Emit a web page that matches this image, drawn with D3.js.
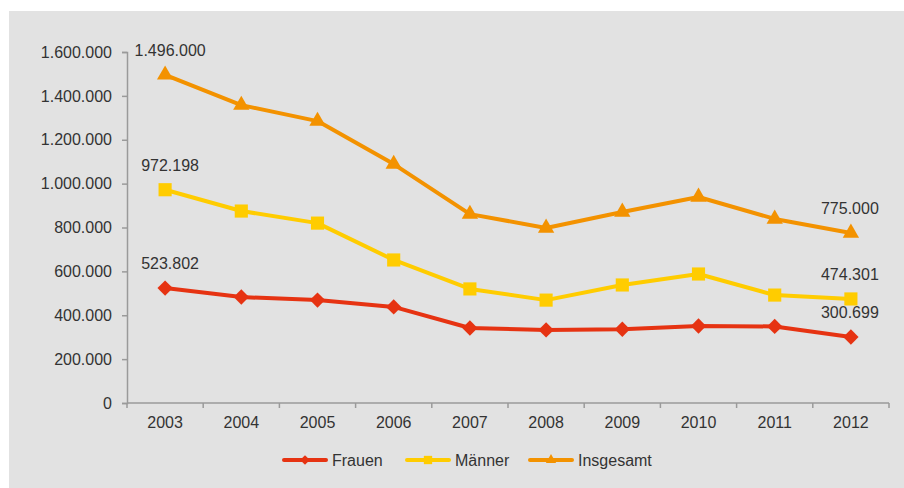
<!DOCTYPE html>
<html>
<head>
<meta charset="utf-8">
<script src="https://cdn.jsdelivr.net/npm/d3@7"></script>
<style>
  html, body { margin: 0; padding: 0; background: #ffffff; }
  svg { display: block; }
  text { font-family: "Liberation Sans", Arial, sans-serif; fill: #333333; }
</style>
</head>
<body>
<svg id="chart" width="904" height="488"></svg>
<script>
// Arbeitslose nach Geschlecht, 2003–2012
const years = ["2003", "2004", "2005", "2006", "2007", "2008", "2009", "2010", "2011", "2012"];
const frauen = [523802, 483000, 469000, 438000, 342000, 333000, 336000, 351000, 349000, 300699];
const maenner = [972198, 875000, 820000, 652000, 520000, 469000, 538000, 588000, 492000, 474301];
const insgesamt = [1496000, 1358000, 1285000, 1089000, 861000, 798000, 871000, 939000, 839000, 775000];
const yTicks = [0, 200000, 400000, 600000, 800000, 1000000, 1200000, 1400000, 1600000];

const series = [
  { name: "Frauen", values: frauen, color: "#e63312", symbol: d3.symbolDiamond2, size: 150 },
  { name: "Männer", values: maenner, color: "#ffcc00", symbol: d3.symbolSquare2, size: 220 },
  { name: "Insgesamt", values: insgesamt, color: "#f39200", symbol: d3.symbolTriangle2, size: 190 }
];

const fmt = v => d3.format(",")(v).replace(/,/g, ".");

const svg = d3.select("#chart");

// panel background
svg.append("rect").attr("x", 9).attr("y", 11).attr("width", 895).attr("height", 477).attr("fill", "#e2e2e2");

const x = d3.scaleBand().domain(years).range([127, 889]);
const y = d3.scaleLinear().domain([0, 1600000]).range([403, 52]);

// y axis
const yAxis = svg.append("g").attr("transform", "translate(127,0)")
  .call(d3.axisLeft(y).tickValues(yTicks).tickFormat(fmt).tickSize(5).tickPadding(10));
// x axis with ticks at category boundaries
const xAxis = svg.append("g").attr("transform", "translate(0,403)")
  .call(d3.axisBottom(x).tickSize(0).tickPadding(14));
const boundaries = years.map(yr => x(yr)).concat([x.range()[1]]);
xAxis.selectAll(".bound").data(boundaries).enter().append("line")
  .attr("class", "bound").attr("x1", d => d).attr("x2", d => d).attr("y1", 0).attr("y2", 5);

[yAxis, xAxis].forEach(g => {
  g.select(".domain").attr("stroke", "#9a9a9a").attr("stroke-width", 1.5);
  g.selectAll("line").attr("stroke", "#9a9a9a").attr("stroke-width", 1.5);
  g.selectAll("text").style("font-size", "16px").attr("fill", "#333333");
});
xAxis.select(".domain").attr("d", `M127,0H889`);

const cx = yr => x(yr) + x.bandwidth() / 2;
const line = d3.line().x((d, i) => cx(years[i])).y(d => y(d));

series.forEach(s => {
  const g = svg.append("g");
  g.append("path").datum(s.values).attr("d", line)
    .attr("fill", "none").attr("stroke", s.color).attr("stroke-width", 4).attr("stroke-linejoin", "round");
  g.selectAll("path.m").data(s.values).enter().append("path").attr("class", "m")
    .attr("transform", (d, i) => `translate(${cx(years[i])},${y(d)})`)
    .attr("d", d3.symbol().type(s.symbol).size(s.size))
    .attr("fill", s.color);
  // value labels on first and last year
  [0, years.length - 1].forEach(i => {
    g.append("text")
      .attr("x", cx(years[i]) + (i === 0 ? 5 : -1))
      .attr("y", y(s.values[i]) - 19)
      .attr("text-anchor", "middle")
      .style("font-size", "16px")
      .text(fmt(s.values[i]));
  });
});

// legend
const legendX = [284, 407, 530];
series.forEach((s, i) => {
  const g = svg.append("g").attr("transform", `translate(${legendX[i]},460)`);
  g.append("line").attr("x1", 0).attr("x2", 42).attr("y1", 0).attr("y2", 0)
    .attr("stroke", s.color).attr("stroke-width", 4).attr("stroke-linecap", "round");
  g.append("path").attr("transform", "translate(21,0)")
    .attr("d", d3.symbol().type(s.symbol).size(s.size * 0.4)).attr("fill", s.color);
  g.append("text").attr("x", 48).attr("y", 6).style("font-size", "16px").text(s.name);
});
</script>
</body>
</html>
